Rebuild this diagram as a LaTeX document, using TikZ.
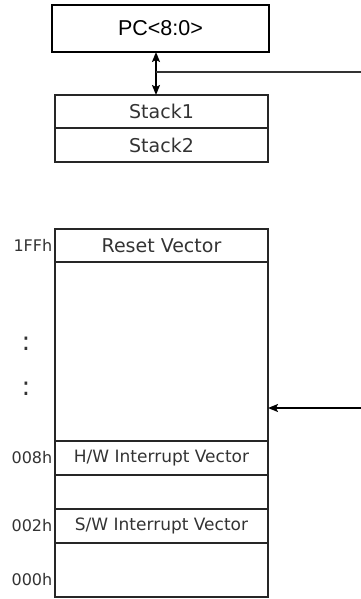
\documentclass[tikz,border=0pt]{standalone}
\usepackage{fontspec}
\setmainfont{DejaVu Sans}
\newfontfamily\pcfont{Liberation Sans}
\usepackage{tikz}
\usetikzlibrary{positioning,arrows.meta}
\tikzstyle{reg} = [rectangle, minimum width=217pt, minimum height=47pt, outer sep=0pt, inner sep=0pt, text centered, draw=black, line width=1.8pt, font=\pcfont\fontsize{21.5}{24}\selectfont]
\tikzstyle{cell} = [rectangle, minimum width=213pt, minimum height=33.5pt, outer sep=0pt, inner sep=0pt, text centered, draw=black!85, line width=1.8pt, text=black!80, font=\fontsize{19}{22}\selectfont]
\tikzstyle{vec} = [cell, font=\fontsize{17}{20}\selectfont]
\tikzstyle{addr} = [left, inner sep=2.5pt, text=black!80, font=\fontsize{16}{19}\selectfont]
\tikzstyle{arrow} = [line width=1.6pt,->,>={Stealth[length=10pt,width=8pt,inset=2pt]}]

\begin{document}
\begin{tikzpicture}[x=1pt,y=1pt]
        \useasboundingbox (0,0) rectangle (361,-599);
        \node (pc) [reg] at (160.5,-28.5) {PC<8:0>};
        \node (stack1) [cell, anchor=north, minimum height=33pt] at (161.5,-95) {Stack1};
        \node (stack2) [cell, below=0pt of stack1, minimum height=34pt] {Stack2};

        % program memory
        \node (reset) [cell, anchor=north, minimum height=33pt] at (161.5,-229) {Reset Vector};
        \node (blank1) [cell, below=0pt of reset, minimum height=179pt] {};
        \node (hwvec) [vec, below=0pt of blank1, minimum height=34pt] {H/W Interrupt Vector};
        \node (blank2) [cell, below=0pt of hwvec, minimum height=34pt] {};
        \node (swvec) [vec, below=0pt of blank2, minimum height=34pt] {S/W Interrupt Vector};
        \node (blank3) [cell, below=0pt of swvec, minimum height=54pt] {};

        % addresses
        \node (a1ff) [addr] at (reset.west) {1FFh};
        \node (dots1) [text=black!80, font=\fontsize{26}{28}\selectfont] at (26,-344) {:};
        \node (dots2) [text=black!80, font=\fontsize{26}{28}\selectfont] at (26,-389) {:};
        \node (a008) [addr] at (hwvec.west) {008h};
        \node (a002) [addr] at (swvec.west) {002h};
        \node (a000) [addr, yshift=17pt] at (blank3.south west) {000h};

        % connections
        \coordinate (tap) at (156,-72);
        \coordinate (busend) at (361,-72);
        \coordinate (pcin) at (361,-408);
        \draw [arrow, <->] (pc.south -| tap) -- (stack1.north -| tap);
        \draw [line width=1.6pt, black!80] (tap) -- (busend);
        \draw [arrow] (pcin) -- (pcin -| blank1.east);
    \end{tikzpicture}
\end{document}
